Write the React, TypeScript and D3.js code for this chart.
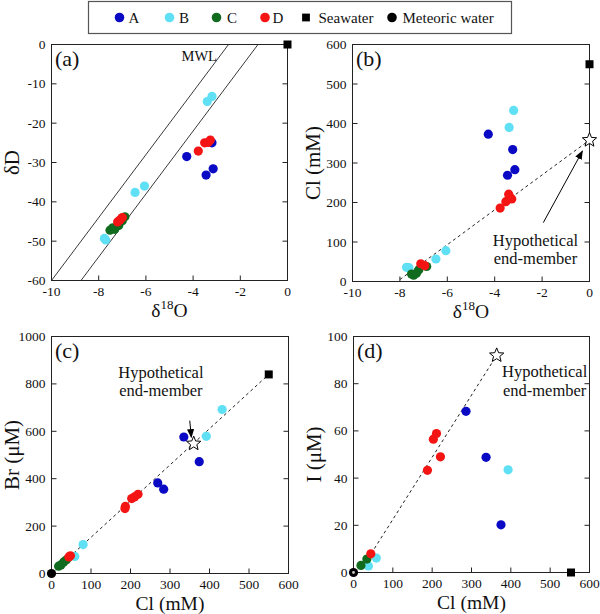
import React from "react";
import * as d3 from "d3";

const FONT = "'Liberation Serif', 'Times New Roman', Times, serif";

// ---- groups / legend ----
const groupNames = ["A", "B", "C", "D"];
const groupColors = ["#0a0ac4", "#5fe0f4", "#116b1f", "#f41414"];

// ---- panel (a): δ18O vs δD ----
const a_A = [[-4.27, -28.5], [-3.2, -25.0], [-3.45, -33.2], [-3.15, -31.6]];
const a_B = [[-3.2, -13.2], [-3.4, -14.5], [-6.06, -36.0], [-6.46, -37.6], [-7.7, -49.7], [-7.76, -49.3]];
const a_C = [[-7.52, -47.2], [-7.32, -47.0], [-7.15, -46.0], [-6.89, -43.8], [-7.0, -44.8], [-7.4, -46.6]];
const a_D = [[-3.78, -27.1], [-3.51, -25.0], [-3.36, -24.9], [-3.27, -24.3], [-7.0, -44.0], [-7.1, -44.6], [-7.2, -45.1]];
const a_sea = [[0, 0]];
const mwlSlopes = [8, 8];
const mwlIntercepts = [20, 10];

// ---- panel (b): δ18O vs Cl ----
const b_A = [[-4.27, 373], [-3.24, 334], [-3.15, 283], [-3.46, 269]];
const b_B = [[-3.2, 433], [-3.39, 390], [-6.06, 78], [-6.48, 57], [-7.72, 36], [-7.62, 35]];
const b_C = [[-7.51, 19], [-7.3, 21], [-6.87, 38], [-7.2, 30], [-7.42, 16]];
const b_D = [[-3.77, 186], [-3.53, 202], [-3.28, 209], [-3.41, 221], [-3.38, 214], [-7.12, 45], [-6.95, 40]];
const b_sea = [[0, 550]];
const b_star = [[0, 358]];
const b_mix = [[-8.0, 5], [0, 358]];
const b_arrow = [[-1.95, 149], [-0.3, 330]];
const b_textPos = [[-2.28, 90], [-2.28, 45]];

// ---- panel (c): Cl vs Br ----
const c_A = [[335, 576], [374, 472], [269, 382], [284, 356]];
const c_B = [[432, 692], [392, 579], [80, 122], [59, 72]];
const c_C = [[18, 31], [24, 36], [31, 49], [38, 58]];
const c_D = [[187, 283], [186, 274], [203, 316], [210, 323], [219, 334], [44, 70], [48, 75]];
const c_sea = [[550, 840]];
const c_met = [[0, 0]];
const c_star = [[360, 548]];
const c_mix = [[0, 0], [550, 840]];
const c_arrow = [[350, 645], [354, 575]];
const c_textPos = [[277, 827], [277, 747]];

// ---- panel (d): Cl vs I ----
const d_A = [[286, 68.3], [337, 48.8], [375, 20.2]];
const d_B = [[393, 43.5], [58, 6.1], [38, 2.8]];
const d_C = [[34, 5.7], [19, 3.0]];
const d_D = [[211, 58.9], [203, 56.5], [221, 49.0], [188, 43.3], [44, 7.9]];
const d_sea = [[553, 0]];
const d_met = [[0, 0]];
const d_star = [[364, 92]];
const d_mix = [[45, 8], [364, 92]];
const d_textPos = [[486, 83], [486, 75]];

// ---- ticks ----
const ticksO = [-10, -8, -6, -4, -2, 0];
const ticksDD = [-60, -50, -40, -30, -20, -10, 0];
const ticksCl = [0, 100, 200, 300, 400, 500, 600];
const ticksBr = [0, 200, 400, 600, 800, 1000];
const ticksI = [0, 20, 40, 60, 80, 100];

const STROKE = "#222";

function starPath(cx: number, cy: number, R: number, r: number) {
  const pts: string[] = [];
  for (let i = 0; i < 10; i++) {
    const rad = i % 2 === 0 ? R : r;
    const ang = -Math.PI / 2 + (i * Math.PI) / 5;
    pts.push(`${cx + rad * Math.cos(ang)},${cy + rad * Math.sin(ang)}`);
  }
  return "M" + pts.join("L") + "Z";
}

type P = number[];

function Frame({ x, y, xTicks, yTicks, label, xTitle, yTitle }: any) {
  const [l, r] = x.range();
  const [b, t] = y.range();
  const TL = 5;
  return (
    <g>
      <rect x={l} y={t} width={r - l} height={b - t} fill="none" stroke={STROKE} strokeWidth={1} />
      {xTicks.map((v: number) => (
        <g key={"x" + v}>
          <line x1={x(v)} x2={x(v)} y1={b} y2={b - TL} stroke={STROKE} />
          <text x={x(v)} y={b + 15.5} fontSize={13.5} textAnchor="middle" fontFamily={FONT} fill="#111">
            {v}
          </text>
        </g>
      ))}
      {yTicks.map((v: number) => (
        <g key={"y" + v}>
          <line x1={l} x2={l + TL} y1={y(v)} y2={y(v)} stroke={STROKE} />
          <line x1={r} x2={r - TL} y1={y(v)} y2={y(v)} stroke={STROKE} />
          <text x={l - 6} y={y(v) + 4.5} fontSize={13.5} textAnchor="end" fontFamily={FONT} fill="#111">
            {v}
          </text>
        </g>
      ))}
      <text x={l + 3.5} y={t + 21.5} fontSize={22} fontFamily={FONT} fill="#111">
        {label}
      </text>
      <text x={(l + r) / 2} y={b + 36} fontSize={19.5} textAnchor="middle" fontFamily={FONT} fill="#111">
        {xTitle}
      </text>
      <text
        transform={`translate(${l - 33},${(t + b) / 2}) rotate(-90)`}
        fontSize={21}
        textAnchor="middle"
        fontFamily={FONT}
        fill="#111"
      >
        {yTitle}
      </text>
    </g>
  );
}

const O18 = (
  <>
    δ<tspan fontSize={13} dy={-8}>18</tspan>
    <tspan dy={8}>O</tspan>
  </>
);

function Dots({ data, x, y, color }: any) {
  return (
    <g>
      {data.map((p: P, i: number) => (
        <circle key={i} cx={x(p[0])} cy={y(p[1])} r={4.6} fill={color} />
      ))}
    </g>
  );
}

function Squares({ data, x, y }: any) {
  const s = 8;
  return (
    <g>
      {data.map((p: P, i: number) => (
        <rect key={i} x={x(p[0]) - s / 2} y={y(p[1]) - s / 2} width={s} height={s} fill="#000" />
      ))}
    </g>
  );
}

function Stars({ data, x, y }: any) {
  return (
    <g>
      {data.map((p: P, i: number) => (
        <path key={i} d={starPath(x(p[0]), y(p[1]), 7.5, 3.3)} fill="#fff" stroke="#000" strokeWidth={1} />
      ))}
    </g>
  );
}

function Dashed({ data, x, y }: any) {
  const line = d3
    .line<P>()
    .x((p) => x(p[0]))
    .y((p) => y(p[1]));
  return <path d={line(data) || ""} fill="none" stroke="#222" strokeWidth={1} strokeDasharray="3,3" />;
}

function Arrow({ data, x, y }: any) {
  return (
    <line
      x1={x(data[0][0])}
      y1={y(data[0][1])}
      x2={x(data[1][0])}
      y2={y(data[1][1])}
      stroke="#000"
      strokeWidth={1}
      markerEnd="url(#arrowHead)"
    />
  );
}

function Annot({ pos, x, y }: any) {
  const lines = ["Hypothetical", "end-member"];
  return (
    <g>
      {lines.map((s, i) => (
        <text key={i} x={x(pos[i][0])} y={y(pos[i][1])} fontSize={16.5} textAnchor="middle" fontFamily={FONT} fill="#111">
          {s}
        </text>
      ))}
    </g>
  );
}

export default function App() {
  // scales
  const xa = d3.scaleLinear().domain([-10, 0]).range([51.5, 287.5]);
  const ya = d3.scaleLinear().domain([-60, 0]).range([280.5, 44.5]);
  const xb = d3.scaleLinear().domain([-10, 0]).range([352.5, 589.5]);
  const yb = d3.scaleLinear().domain([0, 600]).range([281.5, 44.5]);
  const xc = d3.scaleLinear().domain([0, 600]).range([51.5, 288.5]);
  const yc = d3.scaleLinear().domain([0, 1000]).range([573.5, 336.5]);
  const xd = d3.scaleLinear().domain([0, 600]).range([353.5, 589.5]);
  const yd = d3.scaleLinear().domain([0, 100]).range([572.5, 336.5]);

  const aSets = [a_A, a_B, a_C, a_D];
  const bSets = [b_A, b_B, b_C, b_D];
  const cSets = [c_A, c_B, c_C, c_D];
  const dSets = [d_A, d_B, d_C, d_D];

  const [ya0, ya1] = ya.domain();

  // legend layout
  const legendMarkerX = [119.5, 169.5, 216.5, 265, 306, 392];
  const legendTextX = [128.5, 179, 227, 272.5, 318.5, 402.5];
  const legendY = 17.5;

  return (
    <svg
      width={600}
      height={614}
      style={{ position: "absolute", left: 0, top: 0, background: "#fff" }}
      fontFamily={FONT}
    >
      <defs>
        <marker id="arrowHead" viewBox="0 0 10 10" refX="9" refY="5" markerWidth="9" markerHeight="9" orient="auto" markerUnits="userSpaceOnUse">
          <path d="M0,1 L10,5 L0,9 Z" fill="#000" />
        </marker>
        <clipPath id="clipA">
          <rect x={51.5} y={44.5} width={236} height={236} />
        </clipPath>
      </defs>

      {/* legend */}
      <rect x={88.5} y={1.5} width={423} height={32} fill="#fff" stroke="#555" strokeWidth={1.2} />
      {groupNames.map((g, i) => (
        <g key={g}>
          <circle cx={legendMarkerX[i]} cy={legendY} r={4.8} fill={groupColors[i]} />
          <text x={legendTextX[i]} y={legendY + 5.5} fontSize={15} fontFamily={FONT} fill="#111">
            {g}
          </text>
        </g>
      ))}
      <rect x={legendMarkerX[4] - 3.9} y={legendY - 3.9} width={7.8} height={7.8} fill="#000" />
      <text x={legendTextX[4]} y={legendY + 5.5} fontSize={15} fontFamily={FONT} fill="#111">
        Seawater
      </text>
      <circle cx={legendMarkerX[5]} cy={legendY} r={4.8} fill="#000" />
      <text x={legendTextX[5]} y={legendY + 5.5} fontSize={15} fontFamily={FONT} fill="#111">
        Meteoric water
      </text>

      {/* panel a */}
      <g clipPath="url(#clipA)">
        {mwlSlopes.map((m, i) => {
          const bI = mwlIntercepts[i];
          const pts = [
            [(ya0 - bI) / m, ya0],
            [(ya1 - bI) / m, ya1],
          ];
          return (
            <line key={i} x1={xa(pts[0][0])} y1={ya(pts[0][1])} x2={xa(pts[1][0])} y2={ya(pts[1][1])} stroke="#222" strokeWidth={0.9} />
          );
        })}
      </g>
      <text x={181.5} y={60.5} fontSize={14.5} fontFamily={FONT} fill="#111">
        MWL
      </text>
      {aSets.map((s, i) => (
        <Dots key={i} data={s} x={xa} y={ya} color={groupColors[i]} />
      ))}
      <Frame x={xa} y={ya} xTicks={ticksO} yTicks={ticksDD} label="(a)" xTitle={O18} yTitle="δD" />
      <Squares data={a_sea} x={xa} y={ya} />

      {/* panel b */}
      <Dashed data={b_mix} x={xb} y={yb} />
      {bSets.map((s, i) => (
        <Dots key={i} data={s} x={xb} y={yb} color={groupColors[i]} />
      ))}
      <Frame x={xb} y={yb} xTicks={ticksO} yTicks={ticksCl} label="(b)" xTitle={O18} yTitle="Cl (mM)" />
      <Squares data={b_sea} x={xb} y={yb} />
      <Stars data={b_star} x={xb} y={yb} />
      <Arrow data={b_arrow} x={xb} y={yb} />
      <Annot pos={b_textPos} x={xb} y={yb} />

      {/* panel c */}
      <Dashed data={c_mix} x={xc} y={yc} />
      {cSets.map((s, i) => (
        <Dots key={i} data={s} x={xc} y={yc} color={groupColors[i]} />
      ))}
      <Frame x={xc} y={yc} xTicks={ticksCl} yTicks={ticksBr} label="(c)" xTitle="Cl (mM)" yTitle="Br (μM)" />
      <Squares data={c_sea} x={xc} y={yc} />
      <Dots data={c_met} x={xc} y={yc} color="#000" />
      <Stars data={c_star} x={xc} y={yc} />
      <Arrow data={c_arrow} x={xc} y={yc} />
      <Annot pos={c_textPos} x={xc} y={yc} />

      {/* panel d */}
      <Dashed data={d_mix} x={xd} y={yd} />
      {dSets.map((s, i) => (
        <Dots key={i} data={s} x={xd} y={yd} color={groupColors[i]} />
      ))}
      <Frame x={xd} y={yd} xTicks={ticksCl} yTicks={ticksI} label="(d)" xTitle="Cl (mM)" yTitle="I (μM)" />
      <Squares data={d_sea} x={xd} y={yd} />
      <Dots data={d_met} x={xd} y={yd} color="#000" />
      {d_met.map((p, i) => (
        <circle key={i} cx={xd(p[0])} cy={yd(p[1])} r={1.4} fill="#ccc" />
      ))}
      <Stars data={d_star} x={xd} y={yd} />
      <Annot pos={d_textPos} x={xd} y={yd} />
    </svg>
  );
}
